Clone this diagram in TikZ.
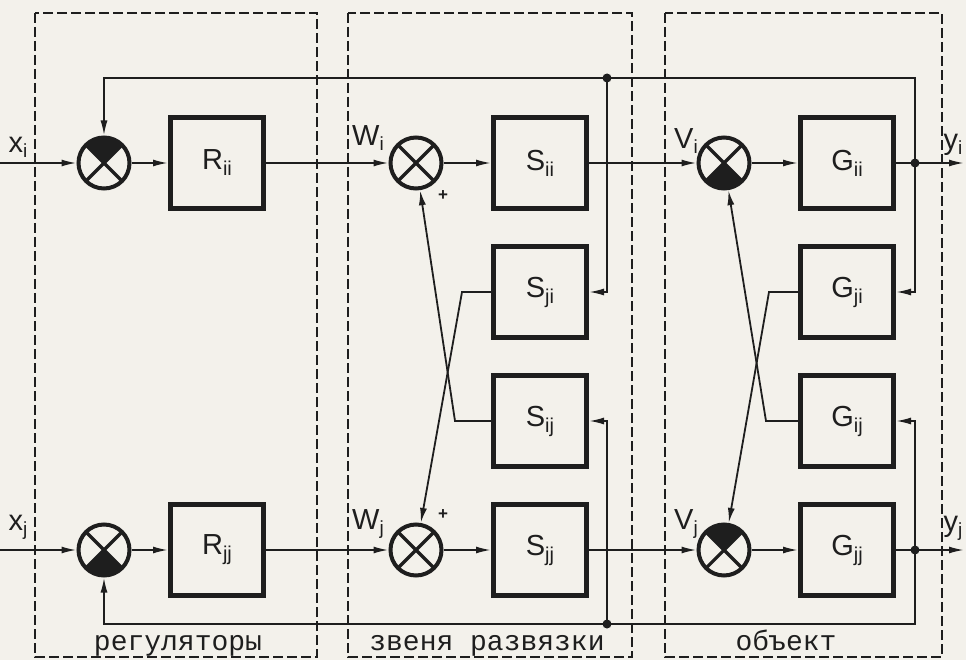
\documentclass[tikz,border=0pt]{standalone}
\usepackage{fontspec}
\setmainfont{Liberation Sans}
\setmonofont{Liberation Mono}
\usepackage{tikz}
\usetikzlibrary{arrows.meta,positioning}
\definecolor{Paper}{HTML}{F3F1EB}
\definecolor{Ink}{HTML}{1E1E1E}
\newcommand{\blk}[2]{#1\raisebox{-6pt}{\fontsize{20}{20}\selectfont #2}}
\newcommand{\sgl}[2]{#1\raisebox{-5pt}{\fontsize{19}{19}\selectfont #2}}
\newcommand{\sumcross}{\draw[line width=3.2pt] (path picture bounding box.north west) -- (path picture bounding box.south east)
  (path picture bounding box.north east) -- (path picture bounding box.south west);}

\begin{document}
\begin{tikzpicture}[x=1pt, y=-1pt, >={Latex[length=15pt,width=7pt]}, node distance=33pt, color=Ink,
    block/.style={draw, line width=5pt, minimum width=93pt, minimum height=91pt, inner sep=0pt, font=\fontsize{29}{29}\selectfont},
    sum/.style={circle, draw, line width=4pt, minimum size=51pt, inner sep=0pt, path picture={\sumcross}},
    sumneg/.style={sum, path picture={\fill (path picture bounding box.center) -- (path picture bounding box.#1 west)
      -- (path picture bounding box.#1 east) -- cycle; \sumcross}},
    sig/.style={->, line width=1.8pt},
    lbl/.style={font=\fontsize{29}{29}\selectfont},
    grp/.style={line width=2pt, dash pattern=on 10pt off 4pt},
    grplbl/.style={font=\ttfamily\fontsize{28}{28}\selectfont, anchor=base}]
    \fill[Paper] (0,0) rectangle (966,660);
    \useasboundingbox (0,0) rectangle (966,660);

    \draw[grp] (35,13) rectangle (317,657);
    \draw[grp] (348,13) rectangle (632,657);
    \draw[grp] (665,13) rectangle (942,657);
    \node[grplbl] (treg) at (178,650) {регуляторы};
    \node[grplbl] (tdec) at (487,650) {звеня развязки};
    \node[grplbl] (tobj) at (786,650) {объект};

    \node[sumneg=north] (Xi) at (104,163) {};
    \node[block] (Rii) at (217,163) {\blk{R}{ii}};
    \node[sum] (Wi) at (416,163) {};
    \node[block] (Sii) at (540,163) {\blk{S}{ii}};
    \node[block, below=of Sii] (Sji) {\blk{S}{ji}};
    \node[block, below=of Sji] (Sij) {\blk{S}{ij}};
    \node[block, below=of Sij] (Sjj) {\blk{S}{jj}};
    \node[sumneg=south] (Vi) at (724,163) {};
    \node[block] (Gii) at (847,163) {\blk{G}{ii}};
    \node[block, below=of Gii] (Gji) {\blk{G}{ji}};
    \node[block, below=of Gji] (Gij) {\blk{G}{ij}};
    \node[block, below=of Gij] (Gjj) {\blk{G}{jj}};
    \node[sumneg=south] (Xj) at (Xi |- Sjj) {};
    \node[block] (Rjj) at (Rii |- Sjj) {\blk{R}{jj}};
    \node[sum] (Wj) at (Wi |- Sjj) {};
    \node[sumneg=north] (Vj) at (Vi |- Gjj) {};

    \node[lbl] (lxi) at (18,147) {\sgl{x}{i}};
    \node[lbl] (lxj) at (18,527) {\sgl{x}{j}};
    \node[lbl] (lwi) at (368,138) {\sgl{W}{i}};
    \node[lbl] (lwj) at (368,524) {\sgl{W}{j}};
    \node[lbl] (lvi) at (686,141) {\sgl{V}{i}};
    \node[lbl] (lvj) at (686,524) {\sgl{V}{j}};
    \node[lbl] (lyi) at (953,145) {\sgl{y}{i}};
    \node[lbl] (lyj) at (953,528) {\sgl{y}{j}};
    \node[font=\bfseries\fontsize{17}{17}\selectfont] (pwi) at (443,196) {+};
    \node[font=\bfseries\fontsize{17}{17}\selectfont] (pwj) at (443,515) {+};

    \coordinate (xin) at (0,163);
    \coordinate (xjn) at (xin |- Xj);
    \coordinate (yi) at (915,163);
    \coordinate (yj) at (yi |- Gjj);
    \coordinate (yio) at (964,163);
    \coordinate (yjo) at (yio |- Gjj);
    \coordinate (topl) at (104,78);
    \coordinate (tapt) at (607,78);
    \coordinate (botl) at (104,624);
    \coordinate (tapb) at (607,624);

    \draw[sig] (xin) -- (Xi);
    \draw[sig] (Xi) -- (Rii);
    \draw[sig] (Rii) -- (Wi);
    \draw[sig] (Wi) -- (Sii);
    \draw[sig] (Sii) -- (Vi);
    \draw[sig] (Vi) -- (Gii);
    \draw[sig] (Gii) -- (yio);
    \draw[sig] (xjn) -- (Xj);
    \draw[sig] (Xj) -- (Rjj);
    \draw[sig] (Rjj) -- (Wj);
    \draw[sig] (Wj) -- (Sjj);
    \draw[sig] (Sjj) -- (Vj);
    \draw[sig] (Vj) -- (Gjj);
    \draw[sig] (Gjj) -- (yjo);

    \draw[sig] (yi) |- (topl) -- (Xi);
    \draw[sig] (tapt) |- (Sji.east);
    \draw[sig] (yi) |- (Gji.east);
    \draw[sig] (yj) |- (botl) -- (Xj);
    \draw[sig] (tapb) |- (Sij.east);
    \draw[sig] (yj) |- (Gij.east);

    \draw[sig] (Sji.west) -- ++(-29,0) -- (Wj);
    \draw[sig] (Sij.west) -- ++(-36,0) -- (Wi);
    \draw[sig] (Gji.west) -- ++(-29,0) -- (Vj);
    \draw[sig] (Gij.west) -- ++(-32,0) -- (Vi);

    \fill (yi) circle (4.5pt);
    \fill (yj) circle (4.5pt);
    \fill (tapt) circle (4.5pt);
    \fill (tapb) circle (4.5pt);
  \end{tikzpicture}
\end{document}
